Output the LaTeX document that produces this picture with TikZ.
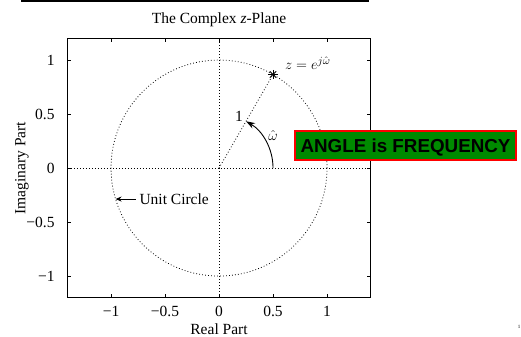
\documentclass[tikz,border=0pt]{standalone}
\usepackage{fontspec}
\setmainfont{Liberation Serif}
\newfontfamily\boxfont{Liberation Sans}
\usepackage{tikz}
\usetikzlibrary{arrows.meta,positioning}
\definecolor{BoxGreen}{RGB}{0,138,0}
\definecolor{BoxRed}{RGB}{255,0,0}
\tikzset{
  unitdot/.style={line width=0.8pt, dash pattern=on 0.8pt off 2.2pt},
  frameline/.style={line width=1pt},
}

\begin{document}
\begin{tikzpicture}[x=108pt,y=108pt,font=\fontsize{15.5}{18}\selectfont]
      \useasboundingbox (-2.028,-1.556) rectangle (2.796,1.556);
      \draw[line width=2pt] (-1.833,1.546)--(1.389,1.546);
      \node (title) at (0,1.37) {The Complex \textit{z}-Plane};
      % dotted axes, circle and radius
      \draw[unitdot] (-1.4,0)--(1.4,0);
      \draw[unitdot] (0,-1.2)--(0,1.2);
      \draw[unitdot] (0,0) circle (1);
      \coordinate (orig) at (0,0);
      \coordinate (zpt) at (0.5,0.866);
      \draw[unitdot] (orig)--(zpt);
      % frame and ticks
      \draw[frameline] (-1.4,-1.2) rectangle (1.4,1.2);
      \foreach \t/\lbl [count=\i] in {-1/−1,-0.5/−0.5,0/0,0.5/0.5,1/1} {
        \draw[frameline] (\t,-1.2)--++(0,0.03); \draw[frameline] (\t,1.2)--++(0,-0.03);
        \draw[frameline] (-1.4,\t)--++(0.03,0); \draw[frameline] (1.4,\t)--++(-0.03,0);
        \node (xt\i) at (\t,-1.324) {\lbl};
        \node[anchor=east] (yt\i) at (-1.49,\t) {\lbl};
      }
      \node[inner sep=1pt] (xlab) at (0,-1.49) {Real Part};
      \node[rotate=90] (ylab) at (-1.824,0) {Imaginary Part};
      % the point on the circle
      \foreach \a in {0,45,90,135}
        \draw[line width=0.9pt] (zpt) ++(\a:0.042) -- ++(\a+180:0.084);
      \node[anchor=west, inner sep=1pt] (zlbl) at (0.6,0.972) {$z = e^{j\hat{\omega}}$};
      \node (rlbl) at (0.185,0.48) {1};
      \draw[-{Stealth[length=9pt,width=6pt]}, line width=0.9pt] (0.5,0) arc[start angle=0,end angle=60,radius=0.5];
      \node (wlbl) at (0.5,0.305) {$\hat{\omega}$};
      % unit circle label
      \node[anchor=west] (uclbl) at (-0.769,-0.287) {Unit Circle};
      \coordinate (ucpt) at (-0.958,-0.287);
      \draw[-{Stealth[length=6pt,width=5pt]}, line width=0.9pt] (uclbl.west)--(ucpt);
      \node[draw=BoxRed, fill=BoxGreen, line width=1.5pt, inner xsep=5.5pt, inner ysep=7.5pt,
        text height=13.5pt, text depth=0.5pt,
        font=\boxfont\bfseries\fontsize{18.8}{22}\selectfont] (freq) at (1.727,0.208) {ANGLE is FREQUENCY};
      \node[font=\fontsize{5}{6}\selectfont] (pgnum) at (2.778,-1.472) {1};
    \end{tikzpicture}
\end{document}
